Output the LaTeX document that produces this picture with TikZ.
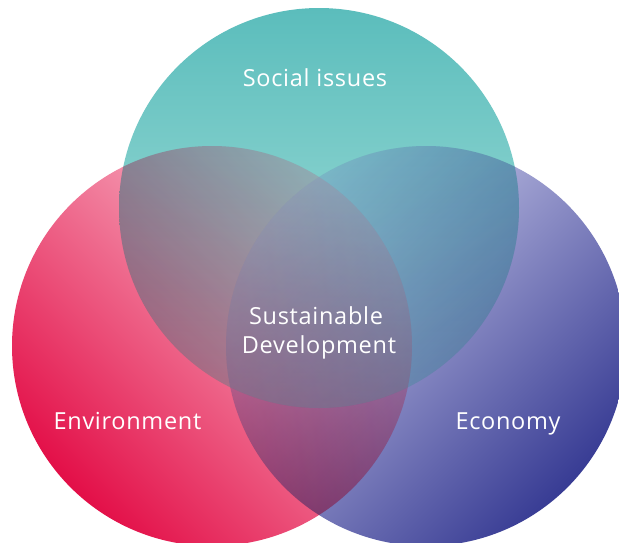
\documentclass[tikz,border=0pt]{standalone}
\usepackage{fontspec}
\setmainfont{Open Sans}[LetterSpace=3]
\definecolor{tealA}{HTML}{5BBDBC}
\definecolor{tealB}{HTML}{B0E4DE}
\definecolor{pinkA}{HTML}{FBCCD8}
\definecolor{pinkB}{HTML}{E30F48}
\definecolor{lavA}{HTML}{D8D8F2}
\definecolor{lavB}{HTML}{383C94}
\tikzset{
  lbl/.style={text=white, font=\fontsize{23.5}{29}\selectfont, anchor=base, inner sep=0pt},
  mult/.style={blend mode=multiply},
  lift/.style={blend mode=lighten, fill opacity=0.15},
  pinkshade/.style={top color=pinkA, bottom color=pinkB, shading angle=-45},
  lavshade/.style={top color=lavA, bottom color=lavB, shading angle=45},
  tealshade/.style={top color=tealA, bottom color=tealB}
}
\begin{document}
\begin{tikzpicture}[x=1pt,y=-1pt]
\useasboundingbox (0,0) rectangle (619,542);
\clip (0,0) rectangle (619,542);
\fill[white] (0,0) rectangle (619,542);
\shade[mult, pinkshade] (212,346) circle (200);
\shade[mult, lavshade] (426,346) circle (200);
\shade[mult, tealshade] (319,208) circle (200);
\shade[lift, pinkshade] (212,346) circle (200);
\shade[lift, lavshade] (426,346) circle (200);
\shade[lift, tealshade] (319,208) circle (200);
\node[lbl] (soc) at (315,86) {Social issues};
\node[lbl] (sus) at (316,324.5) {Sustainable};
\node[lbl] (dev) at (319,353) {Development};
\node[lbl] (env) at (127.5,429) {Environment};
\node[lbl] (eco) at (508,429) {Economy};
\end{tikzpicture}
\end{document}
